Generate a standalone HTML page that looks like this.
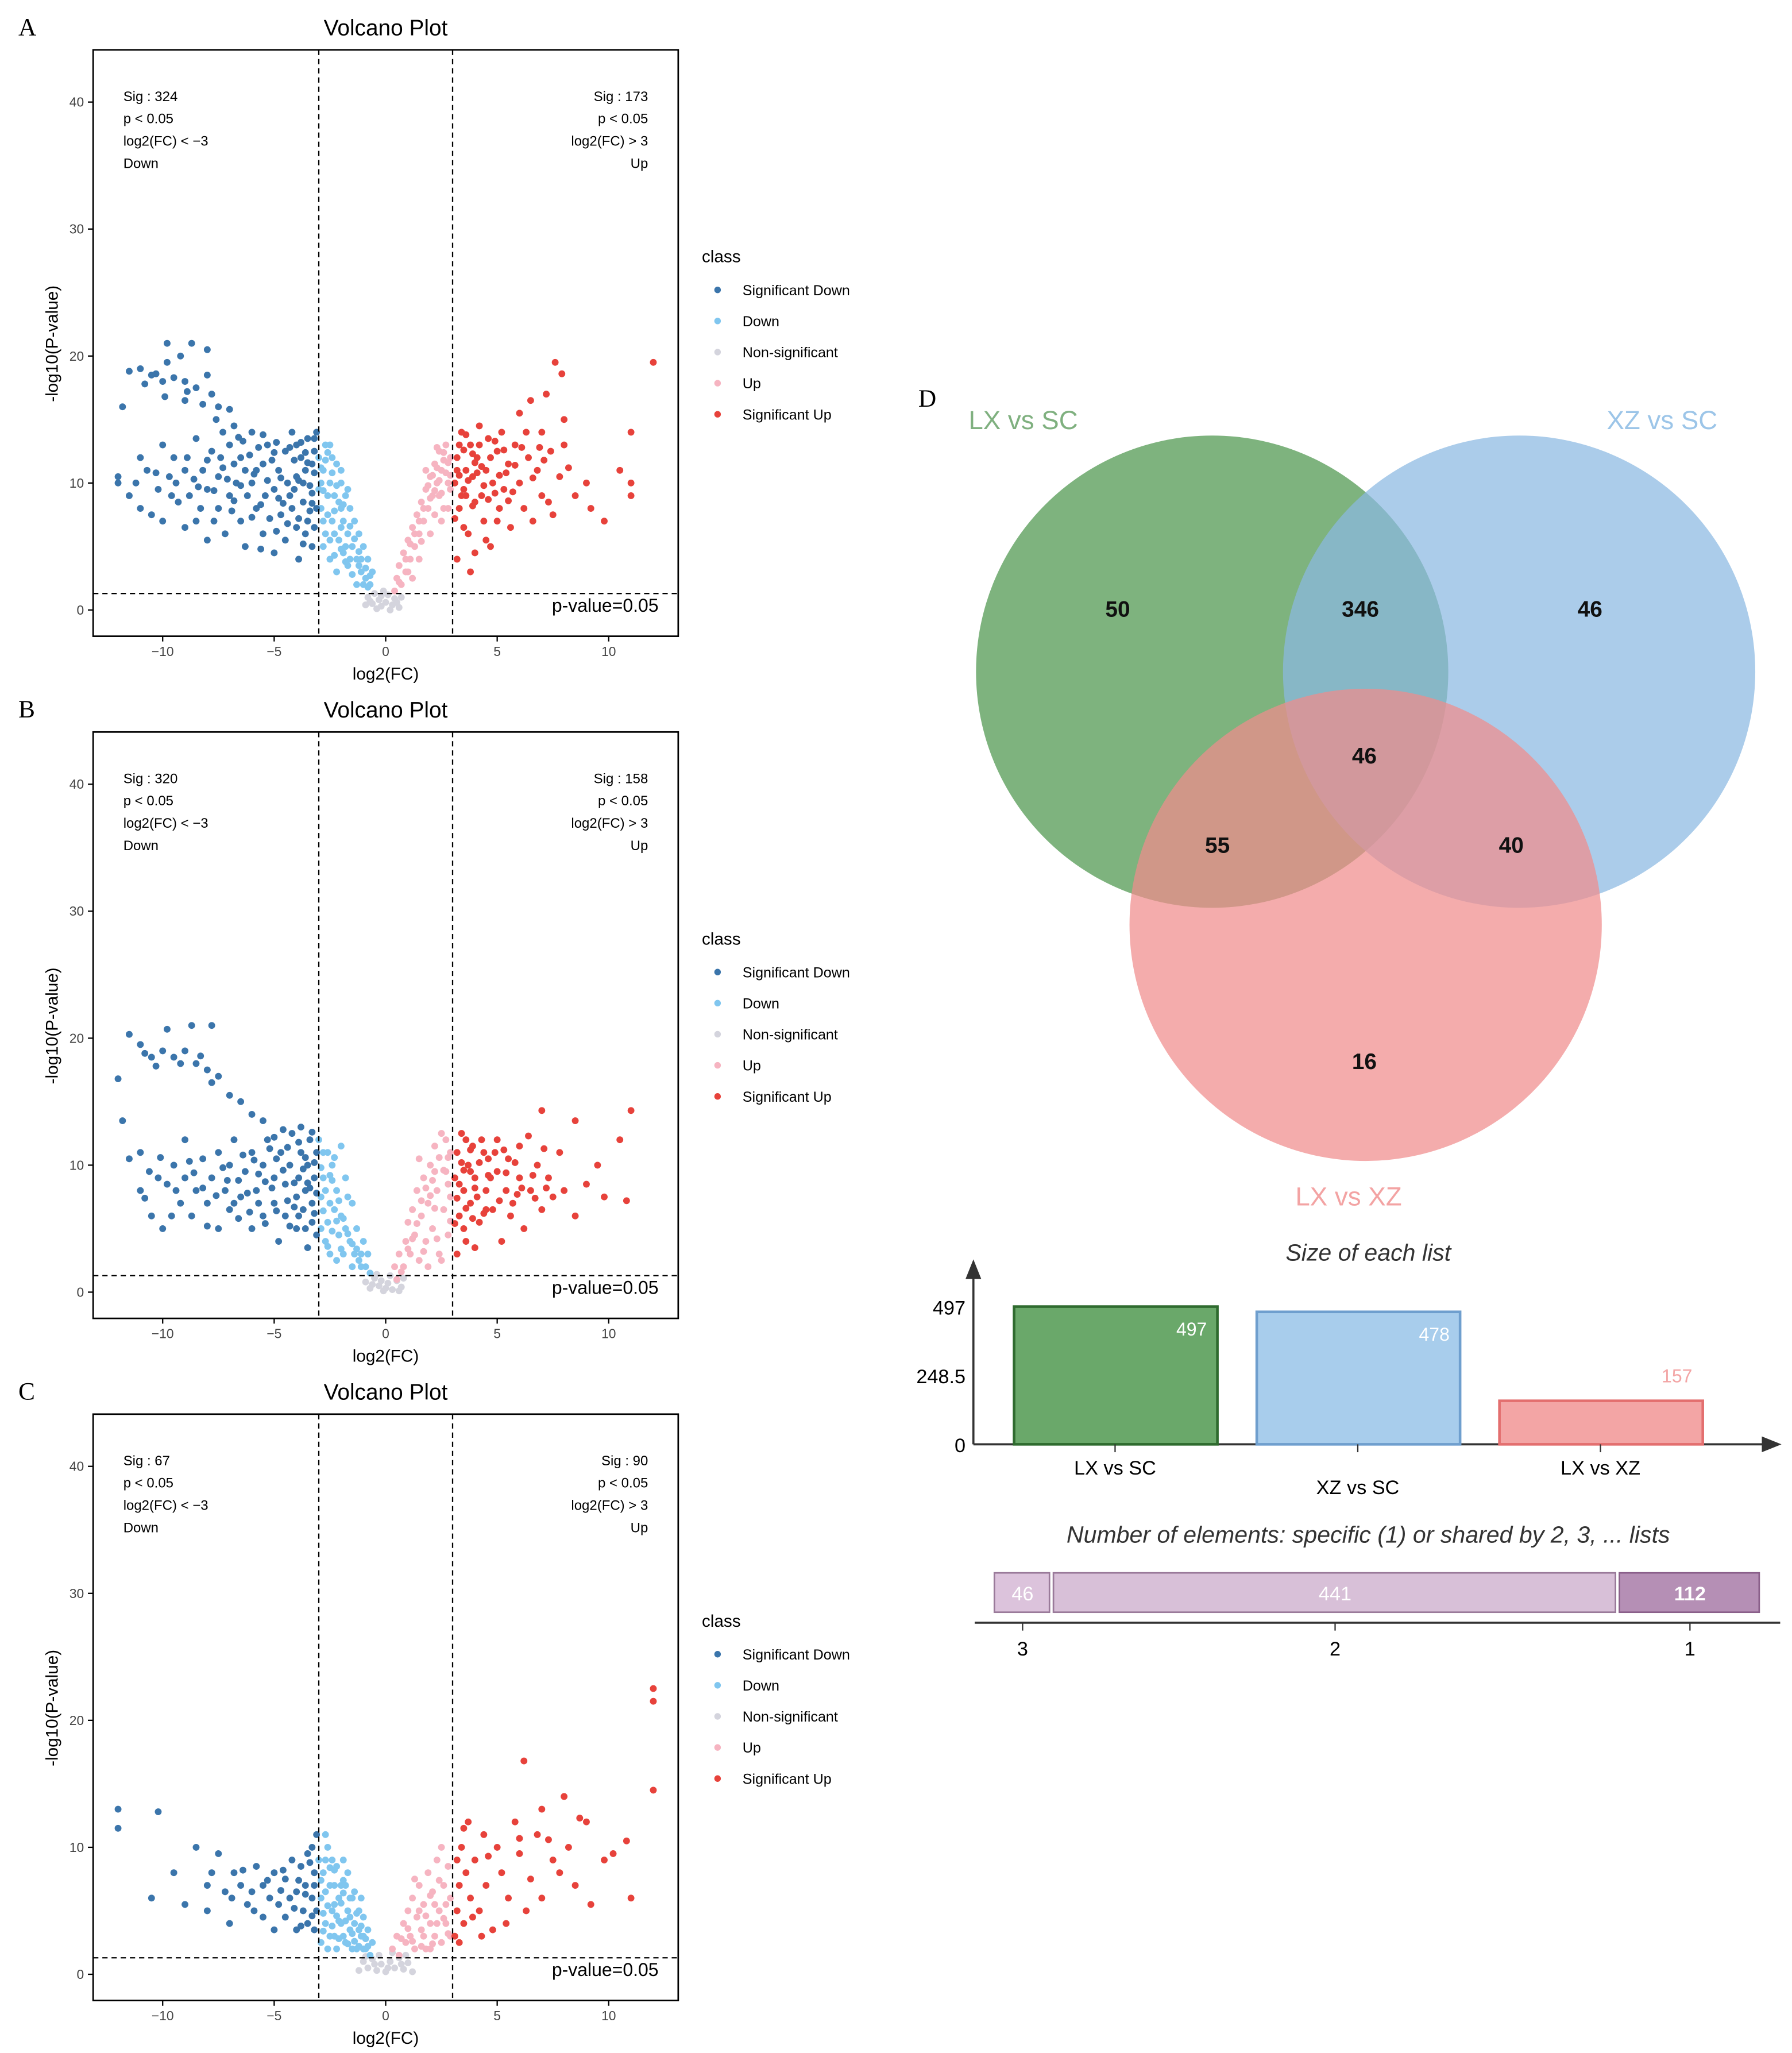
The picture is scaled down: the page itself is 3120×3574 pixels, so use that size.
<!DOCTYPE html>
<html><head><meta charset="utf-8"><style>
html,body{margin:0;padding:0;background:#fff;}
svg{display:block;font-family:"Liberation Sans",sans-serif;}
</style></head><body>
<svg id="root" width="3120" height="3574" viewBox="0 0 1366 1565" preserveAspectRatio="none" xmlns="http://www.w3.org/2000/svg">
<rect width="1366" height="1565" fill="#fff"/>
<g id="volcanoes"></g>

<!-- Venn -->
<g>
<text x="700" y="310" font-family="Liberation Serif,serif" font-size="19">D</text>
<circle cx="924" cy="512" r="180" fill="#5a9e5a" fill-opacity="0.78"/>
<circle cx="1158" cy="512" r="180" fill="#8ab9e2" fill-opacity="0.72"/>
<circle cx="1041" cy="705" r="180" fill="#f08c8c" fill-opacity="0.72"/>
<text x="780" y="327" font-size="20" fill="#7fb07f" text-anchor="middle">LX vs SC</text>
<text x="1267" y="327" font-size="20" fill="#9cc5e8" text-anchor="middle">XZ vs SC</text>
<text x="1028" y="919" font-size="20" fill="#f3a3a3" text-anchor="middle">LX vs XZ</text>
<g font-size="17" font-weight="bold" text-anchor="middle" fill="#111">
<text x="852" y="470">50</text>
<text x="1037" y="470">346</text>
<text x="1212" y="470">46</text>
<text x="1040" y="582">46</text>
<text x="928" y="650">55</text>
<text x="1152" y="650">40</text>
<text x="1040" y="815">16</text>
</g>
</g>
<g id="bars"></g>
</svg>
<script>
// ---------- Volcano data ----------
const sigDownA=[[-11.5,18.8],[-11,19],[-10.5,18.5],[-10,18],[-9.8,19.5],[-9.5,18.3],[-9.2,20],[-9,18],[-8.7,21],[-8.5,17.5],[-8,18.5],[-7.8,17],[-10.8,17.8],[-9,16.5],[-8.2,16.2],[-7.5,16],[-7,15.8],[-6.8,14.5],[-9.8,21],[-8,20.5],[-11.8,16],[-7.3,14],[-12,10.5],[-12,10],[-11.5,9],[-11,12],[-11,8],[-10.7,11],[-10.5,7.5],[-10.2,9.5],[-10,13],[-10,7],[-9.7,10.5],[-9.5,12],[-9.3,8.5],[-9,11],[-9,6.5],[-8.8,9],[-8.5,13.5],[-8.5,7],[-8.2,11],[-8,9.5],[-8,5.5],[-7.8,12.5],[-7.5,8],[-7.5,10.5],[-7.2,6],[-7,13],[-7,9],[-6.8,11.5],[-6.5,7],[-6.5,12],[-6.3,5],[-6,10],[-6,14],[-5.8,8],[-5.5,11.5],[-5.5,6],[-5.3,13],[-5,9.5],[-5,4.5],[-4.8,11],[-4.7,7.5],[-4.5,12.5],[-4.5,5.5],[-4.3,9],[-4.2,14],[-4,10.5],[-4,6.5],[-3.9,4],[-3.8,12],[-3.7,8.5],[-3.6,11],[-3.5,13.5],[-3.5,7],[-3.4,9.8],[-3.3,5],[-3.2,12.5],[-3.2,10.8],[-3.1,8],[-3.1,14],[-3.6,6],[-5.7,12.8],[-6.2,9],[-4.9,13.2],[-5.2,7.2],[-4.1,11.8],[-3.3,9.2],[-3.9,10.2],[-4.6,8.4],[-5.9,10.7],[-6.7,10],[-7.3,11.2],[-8.6,10.3],[-3.5,11.6],[-3.8,13.2],[-4.4,10],[-5.4,9],[-6.1,12.2],[-7.7,9.4],[-9.4,10],[-3.2,6.5],[-4.9,6.2],[-5.6,4.8],[-6.9,7.8],[-8.3,8],
[-3.3,11.5],[-3.4,7.8],[-3.7,10],[-3.9,7.2],[-4.1,9.5],[-4.3,12.8],[-4.4,6.8],[-4.7,10.4],[-4.8,8.8],[-5.1,11.8],[-5.3,10.2],[-5.6,8.3],[-5.8,11],[-6,7.3],[-6.3,11],[-6.5,9.8],[-6.8,8.6],[-7.1,10.3],[-7.4,12],[-7.7,7],[-8,11.8],[-8.4,9.7],[-8.9,12],[-9.6,9],[-10.3,10.8],[-11.2,10],[-3.2,13.5],[-3.6,12.4],[-4,13],[-3.3,8.4],[-3.7,5.2],[-4.2,8],[-5,12.4],[-5.5,13.8],[-6.4,13.3],[-9.9,16.8],[-10.3,18.6],[-8.9,17.2],[-7.6,15],[-6.6,13.6]];
const downA=[[-3,12],[-2.8,11],[-2.7,13],[-2.5,10],[-2.4,12],[-2.3,9],[-2.2,11.5],[-2,8],[-2,10],[-1.9,7],[-1.8,9],[-1.7,6],[-1.6,8],[-1.5,5],[-1.4,7],[-1.3,4],[-1.2,6],[-1.1,3],[-1,5],[-0.9,2.5],[-0.8,4],[-0.7,2],[-0.6,3],[-2.9,8],[-2.7,6],[-2.6,9],[-2.4,7],[-2.1,5.5],[-1.9,4.5],[-1.7,3.5],[-1.5,2.8],[-2.8,5],[-2.5,4],[-2.2,3],[-1.3,2],[-2.9,10],[-2.6,7.5],[-2.3,6],[-1.8,5],[-1.6,4],[-1.2,3.5],[-1,2],[-0.8,1.8],[-2,6.5],[-2.7,11.8],[-3,9.5],[-2.5,13],[-2.1,8.5],
[-2.9,11.2],[-2.8,9.4],[-2.6,12.4],[-2.4,10.8],[-2.3,7.8],[-2.2,9.8],[-2,11],[-1.9,8.3],[-1.7,9.5],[-1.6,6.6],[-1.4,5.6],[-1.2,4.6],[-1.1,4],[-0.9,3.3],[-0.7,2.7],[-2.8,7],[-2.5,5.5],[-2.3,4.3],[-2,4.8],[-1.8,3.8]];
const nonSigA=[[-0.8,1],[-0.6,0.5],[-0.5,1.3],[-0.3,0.8],[-0.2,0.3],[0,0.6],[0.1,1.2],[0.3,0.4],[0.4,0.9],[0.6,0.2],[-0.4,0.1],[0.2,0],[-0.1,1.5],[0.7,1],[-0.9,0.4],[-0.7,0.7],[0.5,0.6],[-0.2,1.1]];
const upA=[[0.4,1.5],[0.5,2.5],[0.6,3.5],[0.7,2],[0.8,4.5],[0.9,3],[1,5.5],[1.1,4],[1.2,6.5],[1.3,5],[1.4,7.5],[1.5,6],[1.6,8.5],[1.7,7],[1.8,9.5],[1.9,8],[2,10.5],[2.1,9],[2.2,11.5],[2.3,10],[2.4,12.5],[2.5,11],[2.6,8],[2.7,13],[2.8,10],[2.9,12],[1,3],[1.5,4],[2,6],[2.5,7],[2.8,8],[1.2,2.5],[2.2,7.5],[2.9,9.5],[2.6,11.8],[2.3,12.8],[1.8,11],[2.4,9],
[0.6,2.2],[0.9,4],[1.1,5.2],[1.3,6],[1.5,7],[1.7,8],[1.9,9.8],[2.1,10.6],[2.3,11.2],[2.5,9.2],[2.7,10.8],[2.9,10.6],[2.6,12.4],[2.2,9.4],[2.8,11.6],[1.6,5.4],[2,8.8],[2.4,10.2]];
const sigUpA=[[3.1,10],[3.2,12],[3.3,8],[3.4,14],[3.5,9.5],[3.6,11],[3.7,6],[3.8,13],[3.9,10.5],[4,8.5],[4.1,12],[4.2,14.5],[4.3,9],[4.4,7],[4.5,11],[4.6,13.5],[4.7,5],[4.8,10],[5,12.5],[5.1,8],[5.2,14],[5.3,9.5],[5.5,11.5],[5.6,6.5],[5.8,13],[6,10],[6,15.5],[6.2,8],[6.4,12],[6.5,16.5],[6.6,7],[6.8,11],[7,14],[7,9],[7.2,17],[7.4,12.5],[7.5,7.5],[7.6,19.5],[7.8,10.5],[8,15],[8,13],[8.5,9],[9,10],[9.2,8],[9.8,7],[10.5,11],[11,14],[11,10],[11,9],[12,19.5],[3.2,4],[3.5,6.5],[4,4.5],[3.8,3],[4.5,5.5],[5,7],[3.3,13],[3.6,9],[3.9,12.3],[4.3,11.3],[4.9,13.3],[5.4,10.8],[6.3,14],[6.9,12.8],[7.3,8.5],[7.9,18.6],[8.2,11.2],[3.1,7.2],[5.7,9.3],[4.6,8.7],
[3.2,11],[3.4,9],[3.5,12.6],[3.7,10.2],[3.9,8.2],[4.1,10.8],[4.2,13],[4.4,9.8],[4.7,12],[4.9,9.2],[5.1,10.6],[5.3,12.6],[5.5,8.6],[5.8,11.4],[6.1,12.8],[6.6,10.4],[7.1,11.8],[3.3,10.6],[3.6,13.8],[4,11.6]];

const sigDownB=[[-12,16.8],[-11.8,13.5],[-11.5,20.3],[-11,19.5],[-10.5,18.5],[-10,19],[-9.5,18.5],[-9,19],[-8.7,21],[-8.5,18],[-8,17.5],[-7.8,16.5],[-7.5,17],[-7,15.5],[-6.5,15],[-6,14],[-5.5,13.5],[-9.8,20.7],[-7.8,21],[-10.8,18.8],[-11.5,10.5],[-11,8],[-11,11],[-10.5,6],[-10.2,9],[-10,5],[-9.8,8.5],[-9.5,10],[-9.2,7],[-9,9],[-9,12],[-8.7,6],[-8.5,8],[-8.2,10.5],[-8,7],[-7.8,9],[-7.5,5],[-7.5,11],[-7.2,8],[-7,6.5],[-7,10],[-6.8,12],[-6.5,7.5],[-6.3,9.5],[-6,5],[-6,11],[-5.8,8],[-5.5,6],[-5.5,10],[-5.3,12],[-5,7],[-5,9],[-4.8,4],[-4.7,11],[-4.5,6],[-4.5,8.5],[-4.3,10],[-4.2,12.5],[-4,5],[-4,7.5],[-3.9,9],[-3.8,11],[-3.7,6.5],[-3.6,8],[-3.5,3.5],[-3.5,10],[-3.4,12],[-3.3,5.5],[-3.3,7],[-3.2,9],[-3.1,11],[-3.1,4.5],[-3.8,13],[-4.6,12.8],[-5.2,11.3],[-6.6,8.8],[-8.8,10.3],[-10.6,9.5],[-9.6,6],[-8,5.2],[-7.3,9.8],[-5.7,7],[-4.9,10.5],[-4.1,6.7],[-3.5,8.6],[-3.2,6.2],[-6.1,6.3],[-5.4,8.7],[-3.7,9.7],
[-3.2,10.2],[-3.4,8.2],[-3.6,10.6],[-3.9,6],[-4.1,8.6],[-4.4,7.2],[-4.6,9.6],[-4.9,6.4],[-5.1,8.2],[-5.4,5.4],[-5.7,9.3],[-5.9,10.4],[-6.2,7.8],[-6.4,10.8],[-6.8,7],[-7.1,8.8],[-7.6,7.6],[-8.2,8.2],[-8.6,9.4],[-9.4,8],[-10.1,10.6],[-10.8,7.4],[-3.3,12.6],[-3.9,11.8],[-4.4,11.4],[-5,12.2],[-3.1,7.8],[-3.6,5],[-4.3,5.2],[-6.6,5.8],[-9.2,18],[-10.3,17.8],[-8.3,18.6]];
const downB=[[-3,12],[-2.8,9],[-2.6,11],[-2.5,7],[-2.4,10],[-2.2,8],[-2,6],[-2,11.5],[-1.8,5],[-1.8,9],[-1.6,4],[-1.5,7],[-1.4,3],[-1.3,5],[-1.2,2.5],[-1,4],[-0.9,2],[-0.8,3],[-2.9,5],[-2.7,4],[-2.5,3],[-2.3,6.5],[-2.1,4.5],[-1.9,3],[-1.7,7.5],[-1.1,2],[-2.9,7.5],[-2.6,5.5],[-2.2,2.5],[-1.5,2],[-0.7,1.5],[-2.4,8.8],[-2.8,11],
[-2.9,9.8],[-2.7,8],[-2.5,9.2],[-2.3,10.6],[-2.1,7.2],[-1.9,5.8],[-1.7,4.6],[-1.5,3.8],[-1.3,3.4],[-1.1,3],[-2.8,6.4],[-2.6,3.6],[-2.4,4.8],[-2.2,5.6],[-2,3.4]];
const nonSigB=[[-0.9,0.8],[-0.7,0.3],[-0.5,1.1],[-0.3,0.5],[-0.1,0.1],[0.1,0.7],[0.3,0.2],[0.5,0.9],[0.7,0.4],[-0.4,1.4],[0.2,1.3],[0.8,1.1],[-0.2,0.9],[0,0.3],[0.6,0.1],[-0.6,0.6]];
const upB=[[0.4,2],[0.5,1],[0.6,3],[0.8,2],[0.9,4],[1,5.5],[1.1,3],[1.2,6.5],[1.3,4.5],[1.4,8],[1.5,2.5],[1.6,6],[1.7,9],[1.8,4],[1.9,7],[2,10],[2.1,5],[2.2,11.5],[2.3,8],[2.4,3],[2.5,12.5],[2.6,6.5],[2.7,9.5],[2.8,4.5],[2.9,11],[2.5,2.5],[1.9,2],[2.9,7.5],[2.2,9.5],[2.7,12],[1.5,10.5],[2.8,8.5],
[0.7,1.6],[1,3.4],[1.2,4.2],[1.4,5.4],[1.6,7.2],[1.8,8.2],[2,7.6],[2.2,6.6],[2.4,10.6],[2.6,9.6],[2.8,10.6],[2.9,5.6],[2.3,4.2],[2.1,8.8],[1.7,3.2]];
const sigUpB=[[3.1,9],[3.2,11],[3.3,6],[3.4,12.5],[3.5,8],[3.6,4],[3.7,10],[3.8,7],[3.9,11.5],[4,9],[4.2,5.5],[4.3,12],[4.5,8],[4.6,10.5],[4.8,6.5],[5,9.5],[5,12],[5.2,4],[5.4,8],[5.5,10.5],[5.7,7],[6,9],[6,11.5],[6.2,5],[6.5,8],[6.8,10],[7,14.3],[7,6.5],[7.3,9],[7.5,7.5],[7.8,11],[8,8],[8.5,6],[8.5,13.5],[9,8.5],[9.5,10],[9.8,7.5],[10.5,12],[10.8,7.2],[11,14.3],[3.2,3],[3.5,5],[4,3.5],[4.5,6.5],[3.3,8.5],[3.8,9.5],[4.1,7.5],[4.7,9],[5.6,6],[6.4,12.3],[5.9,7.7],[7.1,11.3],[3.6,12],[4.4,11],[5.3,11.2],[6.7,7.4],
[3.2,7.4],[3.4,10.2],[3.6,6.6],[3.8,11.2],[4,8.2],[4.2,10.2],[4.4,6.2],[4.6,9.2],[4.9,11],[5.1,7.2],[5.4,9.4],[5.8,10.2],[6.1,8.2],[6.6,9.2],[7.2,8.2],[3.1,5.4],[3.5,9.6],[3.9,5.8]];

const sigDownC=[[-12,13],[-12,11.5],[-10.2,12.8],[-10.5,6],[-9.5,8],[-9,5.5],[-8.5,10],[-8,7],[-8,5],[-7.5,9.5],[-7.2,6.5],[-7,4],[-6.8,8],[-6.5,7],[-6.2,5.5],[-6,6.5],[-5.8,8.5],[-5.5,4.5],[-5.5,7],[-5.2,6],[-5,8],[-5,3.5],[-4.8,5.5],[-4.5,7.5],[-4.5,4.5],[-4.3,6],[-4.2,9],[-4,3.5],[-4,6.5],[-3.8,8.5],[-3.7,5],[-3.6,7],[-3.5,4],[-3.5,9.5],[-3.3,6],[-3.2,8],[-3.2,3.5],[-3.1,11],[-3.1,5],[-3.3,10],[-3.6,6.3],[-4.7,6.6],[-5.9,5],[-6.9,6],
[-3.2,7],[-3.4,8.8],[-3.9,7.4],[-4.1,5.2],[-4.6,8.2],[-5.3,7.4],[-3.3,4.6],[-3.8,3.8],[-6.4,8.2],[-7.8,8]];
const downC=[[-3,9],[-2.9,6],[-2.8,8],[-2.7,4],[-2.6,10],[-2.5,7],[-2.4,5],[-2.3,3],[-2.2,8.5],[-2.1,6],[-2,4],[-1.9,9],[-1.8,2.5],[-1.8,7],[-1.7,5],[-1.6,3.5],[-1.5,6],[-1.4,4],[-1.3,2],[-1.2,5],[-1.1,3],[-1,4.5],[-0.9,2],[-0.8,3.5],[-0.7,1.5],[-0.6,2.5],[-2.9,2.5],[-2.7,6.5],[-2.5,3],[-2.4,9],[-2.2,2],[-2,7],[-1.9,3],[-1.7,8],[-1.5,2],[-1.4,6.5],[-1.2,3.5],[-1,2],[-2.8,4.8],[-2.3,5.5],[-1.6,4.5],[-2.6,2],[-2.1,4.2],[-2.7,11],[-1.1,6],
[-2.9,7.4],[-2.8,3.4],[-2.6,5.4],[-2.5,8.4],[-2.4,3.8],[-2.3,7],[-2.2,4.6],[-2.1,2.8],[-2,5.6],[-1.9,6.4],[-1.8,4.2],[-1.7,2.4],[-1.6,6],[-1.5,3.2],[-1.4,2.6],[-1.3,4.8],[-1.2,2.2],[-1.1,3.8],[-1,3],[-0.9,2.8],[-0.8,2.2],[-2.7,9],[-2.3,8.2],[-1.9,7.4]];
const nonSigC=[[-1,1],[-0.8,0.5],[-0.6,1.2],[-0.4,0.3],[-0.2,0.8],[0,0.2],[0.2,1],[0.4,0.5],[0.6,1.3],[0.8,0.4],[1,0.9],[-1.2,0.3],[1.2,0.2],[-0.3,1.5],[0.3,1.7],[-0.5,0.8],[0.1,0.5],[0.7,0.8],[-0.9,1.4],[0.9,1.5]];
const upC=[[0.3,2],[0.5,3],[0.6,1.5],[0.8,4],[0.9,2.5],[1,5],[1.1,3],[1.2,6],[1.3,2],[1.4,4.5],[1.5,7],[1.6,3.5],[1.7,5.5],[1.8,2],[1.9,8],[2,4],[2.1,6.5],[2.2,3],[2.3,9],[2.4,5],[2.5,2.5],[2.6,7],[2.7,4],[2.8,8.5],[2.9,3],[2.9,6],[2.5,10],[2,2],[1.3,7.5],[2.7,5.5],[1.7,3],[2.2,5.5],
[0.7,2.8],[1,3.6],[1.2,2.6],[1.5,5],[1.8,4.6],[2,6.2],[2.3,4],[2.6,4.4],[2.8,3.2],[2.4,7.4],[1.6,2.2],[2.1,2.4]];
const sigUpC=[[3.1,3],[3.2,5],[3.3,7],[3.4,10],[3.5,4],[3.6,8],[3.7,12],[3.8,6],[4,9],[4.2,5],[4.4,11],[4.5,7],[4.8,3.5],[5,10],[5.2,8],[5.5,6],[5.8,12],[6,9.5],[6.2,16.8],[6.3,5],[6.5,7.5],[6.8,11],[7,13],[7,6],[7.5,9],[7.8,8],[8,14],[8.2,10],[8.5,7],[9,12],[9.2,5.5],[9.8,9],[10.2,9.5],[10.8,10.5],[11,6],[12,22.5],[12,21.5],[12,14.5],[3.3,2.5],[3.9,4.5],[4.3,3],[3.5,11.5],[3.2,9],[4.6,9.3],[5.4,4],[7.3,10.6],[6,10.7],[8.7,12.3]];

const sigCountsDown=[324,320,67];
const sigCountsUp=[173,158,90];
const panelLetters=["A","B","C"];
const xTicks=[-10,-5,0,5,10];
const yTicks=[0,10,20,30,40];
const classNames=["Significant Down","Down","Non-significant","Up","Significant Up"];

// ---------- Bar data ----------
const listNames=["LX vs SC","XZ vs SC","LX vs XZ"];
const listSizes=[497,478,157];
const listTicks=[0,248.5,497];
const sharedLabels=["3","2","1"];
const sharedCounts=[46,441,112];

const NS="http://www.w3.org/2000/svg";
function mk(tag,attrs,parent,text){const e=document.createElementNS(NS,tag);for(const k in attrs)e.setAttribute(k,attrs[k]);if(text!==undefined)e.textContent=text;parent.appendChild(e);return e;}
const colors=["#3b75ab","#80c6ef","#d4d4dd","#f6b4c1","#e7423b"];
const V=document.getElementById("volcanoes");
const panels=[[sigDownA,downA,nonSigA,upA,sigUpA],[sigDownB,downB,nonSigB,upB,sigUpB],[sigDownC,downC,nonSigC,upC,sigUpC]];
panels.forEach((series,pi)=>{
  const oy=pi*520;
  const g=mk("g",{},V);
  
  
  const sx=v=>294+v*17.0, sy=v=>oy+465-v*9.68;
  const L=mk("text",{x:14,y:oy+27,"font-family":"Liberation Serif,serif","font-size":19},g,panelLetters[pi]);
  
  
  const t=mk("text",{x:294,y:oy+27,"font-size":17,"text-anchor":"middle"},g,"Volcano Plot");
  
  
  const pts=mk("g",{},g);
  
  
  [2,1,3,0,4].forEach(ci=>{series[ci].forEach(p=>{
    const c=mk("circle",{cx:sx(p[0]),cy:sy(p[1]),r:2.6,fill:colors[ci]},pts);
    
    
  });});
  const box=mk("rect",{x:71,y:oy+38,width:446,height:447,fill:"none",stroke:"#000","stroke-width":1.2},g);
  
  
  [-3,3].forEach(v=>{const l=mk("line",{x1:sx(v),x2:sx(v),y1:oy+38,y2:oy+485,stroke:"#000","stroke-dasharray":"4,3","stroke-width":1},g);
    
    });
  const hl=mk("line",{x1:71,x2:517,y1:sy(1.3),y2:sy(1.3),stroke:"#000","stroke-dasharray":"4,3","stroke-width":1},g);
  
  
  const pv=mk("text",{x:502,y:sy(1.3)+14,"font-size":14,"text-anchor":"end"},g,"p-value=0.05");
  
  
  xTicks.forEach(v=>{mk("line",{x1:sx(v),x2:sx(v),y1:oy+485,y2:oy+489,stroke:"#000"},g);
    const tx=mk("text",{x:sx(v),y:oy+500,"font-size":10,fill:"#444","text-anchor":"middle"},g,v===0?"0":(v<0?"\u2212"+(-v):v));
    
    });
  yTicks.forEach(v=>{mk("line",{x1:67,x2:71,y1:sy(v),y2:sy(v),stroke:"#000"},g);
    const ty=mk("text",{x:64,y:sy(v)+3.5,"font-size":10,fill:"#444","text-anchor":"end"},g,v);
    
    });
  const xt=mk("text",{x:294,y:oy+518,"font-size":13,"text-anchor":"middle"},g,"log2(FC)");
  
  
  const yt=mk("text",{x:44,y:oy+262,"font-size":13,"text-anchor":"middle",transform:"rotate(-90 44 "+(oy+262)+")"},g,"-log10(P-value)");
  
  
  const la=["Sig : "+sigCountsDown[pi],"p < 0.05","log2(FC) < \u22123","Down"];
  const ra=["Sig : "+sigCountsUp[pi],"p < 0.05","log2(FC) > 3","Up"];
  la.forEach((s,i)=>{const a=mk("text",{x:94,y:oy+77+i*17,"font-size":10.5},g,s);
    
    });
  ra.forEach((s,i)=>{const a=mk("text",{x:494,y:oy+77+i*17,"font-size":10.5,"text-anchor":"end"},g,s);
    
    });
  const lg=mk("g",{},g);
  
  
  mk("text",{x:535,y:oy+200,"font-size":13},lg,"class");
  classNames.forEach((n,i)=>{
    const e=mk("g",{},lg);
    
    
    mk("circle",{cx:547,cy:oy+221+i*23.7,r:2.5,fill:colors[i]},e);
    mk("text",{x:566,y:oy+225+i*23.7,"font-size":11},e,n);
  });
});

// ---------- Bars ----------
const B=document.getElementById("bars");
const barBase=1101, barTop=996, by=v=>barBase-(barBase-barTop)*v/listSizes[0];
const barFill=["#6aa86a","#a8cdec","#f3a5a5"], barStroke=["#2f6b2f","#6f9fce","#e36f6f"], valCol=["#fff","#fff","#f3a5a5"];
const bt=mk("text",{x:1043,y:961,"font-size":18,"font-style":"italic","text-anchor":"middle",fill:"#333"},B,"Size of each list");


mk("line",{x1:742,x2:742,y1:1101,y2:968,stroke:"#333","stroke-width":1.6},B);
mk("path",{d:"M736,975 L742,960 L748,975 Z",fill:"#333"},B);
mk("line",{x1:742,x2:1350,y1:1101,y2:1101,stroke:"#333","stroke-width":1.6},B);
mk("path",{d:"M1343,1095 L1358,1101 L1343,1107 Z",fill:"#333"},B);
listTicks.forEach(v=>{const t=mk("text",{x:736,y:by(v)+6,"font-size":15,"text-anchor":"end"},B,v);
  
  });
listNames.forEach((n,i)=>{
  const x0=773+i*185;
  const r=mk("rect",{x:x0,y:by(listSizes[i]),width:155,height:barBase-by(listSizes[i]),fill:barFill[i],stroke:barStroke[i],"stroke-width":2},B);
  
  
  const small=listSizes[i]<listSizes[0]*0.4;
  const vt=mk("text",{x:x0+147,y:small?by(listSizes[i])-14:by(listSizes[i])+22,"font-size":14,"text-anchor":"end",fill:valCol[i]},B,listSizes[i]);
  
  
  mk("line",{x1:x0+77,x2:x0+77,y1:1101,y2:1107,stroke:"#333"},B);
  const lt=mk("text",{x:x0+77,y:i===1?1139:1124,"font-size":15,"text-anchor":"middle"},B,n);
  
  
});
const st=mk("text",{x:1043,y:1176,"font-size":18,"font-style":"italic","text-anchor":"middle",fill:"#333"},B,"Number of elements: specific (1) or shared by 2, 3, ... lists");


const tot=sharedCounts.reduce((a,b)=>a+b,0);
const segFill=["#dcc3dc","#d8c0d8","#b58fb5"], segStroke=["#9a7a9a","#9a7a9a","#8a5f8a"];
let segX=757; const W=586;
sharedCounts.forEach((c,i)=>{
  const w=W*c/tot;
  const r=mk("rect",{x:segX+1,y:1199,width:w-3,height:30,fill:segFill[i],stroke:segStroke[i],"stroke-width":1.2},B);
  
  
  const t=mk("text",{x:segX+w/2,y:1220,"font-size":15,"font-weight":i===2?"bold":"normal","text-anchor":"middle",fill:"#fff"},B,c);
  
  
  mk("line",{x1:segX+w/2,x2:segX+w/2,y1:1237,y2:1243,stroke:"#333"},B);
  const tl=mk("text",{x:segX+w/2,y:1262,"font-size":15,"text-anchor":"middle"},B,sharedLabels[i]);
  
  
  segX+=w;
});
mk("line",{x1:743,x2:1357,y1:1237,y2:1237,stroke:"#333","stroke-width":1.6},B);
</script>
</body></html>
